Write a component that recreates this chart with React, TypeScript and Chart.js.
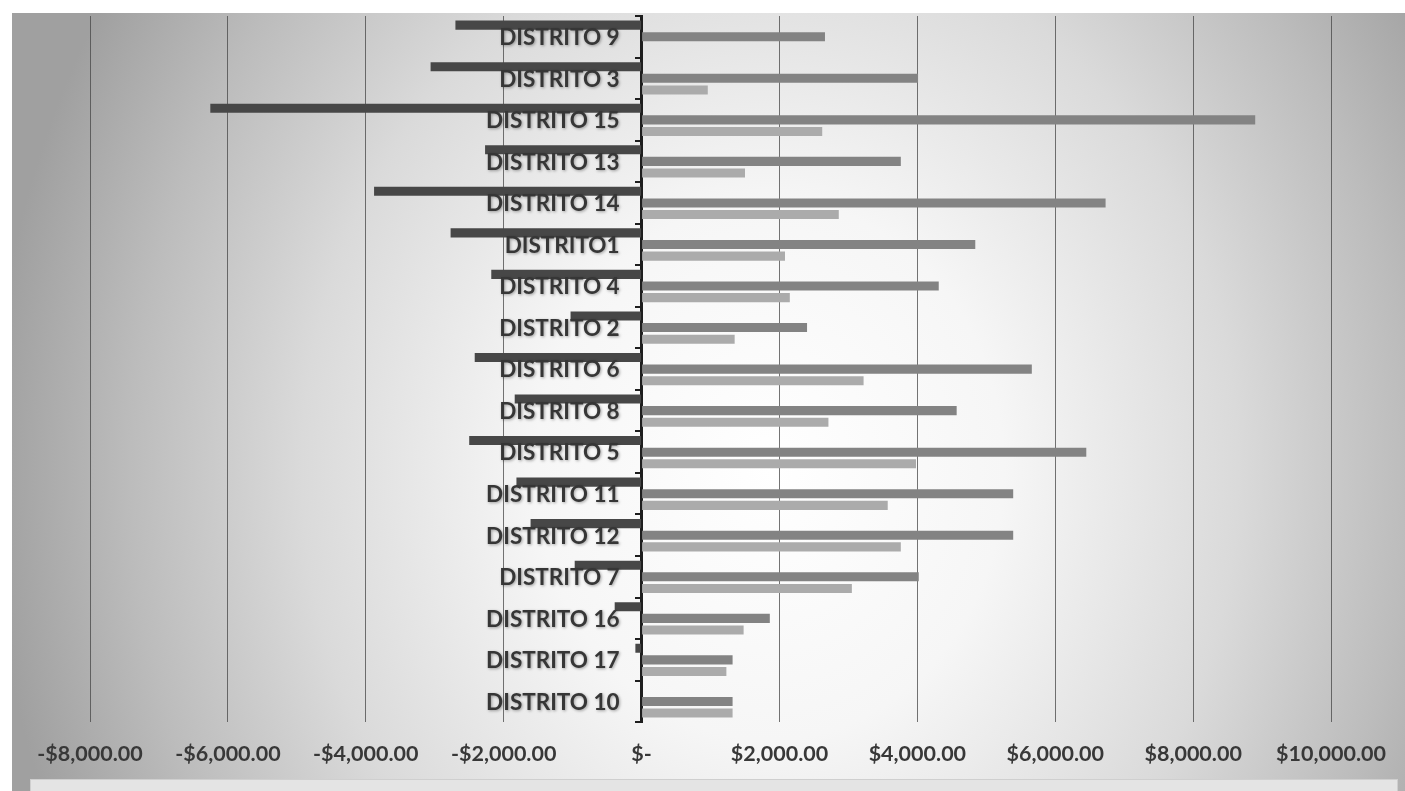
import React, { useEffect, useRef } from "react";
import { Chart, registerables } from "chart.js";

Chart.register(...registerables);

const categories = [
  "DISTRITO 9",
  "DISTRITO 3",
  "DISTRITO 15",
  "DISTRITO 13",
  "DISTRITO 14",
  "DISTRITO1",
  "DISTRITO 4",
  "DISTRITO 2",
  "DISTRITO 6",
  "DISTRITO 8",
  "DISTRITO 5",
  "DISTRITO 11",
  "DISTRITO 12",
  "DISTRITO 7",
  "DISTRITO 16",
  "DISTRITO 17",
  "DISTRITO 10",
];

const seriesNames = ["Serie 1", "Serie 2", "Serie 3"];

const darkValues = [
  -2700, -3060, -6255, -2270, -3880, -2770, -2180, -1030, -2420, -1840, -2500,
  -1815, -1610, -970, -390, -90, 0,
];

const mediumValues = [
  2660, 4010, 8900, 3760, 6730, 4840, 4310, 2400, 5660, 4570, 6450, 5390, 5390,
  4020, 1860, 1320, 1320,
];

const lightValues = [
  0, 960, 2620, 1500, 2860, 2080, 2150, 1350, 3220, 2710, 3980, 3570, 3760,
  3050, 1480, 1230, 1320,
];

const xMin = -8000;
const xMax = 10000;
const xStep = 2000;

const formatMoney = (v: number) => {
  if (v === 0) return "$-";
  const s =
    "$" +
    Math.abs(v).toLocaleString("en-US", {
      minimumFractionDigits: 2,
      maximumFractionDigits: 2,
    });
  return v < 0 ? "-" + s : s;
};

const backgroundPlugin = {
  id: "excelBackground",
  beforeDraw(chart: any) {
    const ctx = chart.ctx as CanvasRenderingContext2D;
    const w = chart.width;
    const h = chart.height;
    ctx.save();
    ctx.fillStyle = "#ffffff";
    ctx.fillRect(0, 0, w, h);
    const cx = 770;
    const cy = 470;
    const rx = 780;
    const ry = 900;
    const x0 = 12;
    const y0 = 13;
    ctx.translate(cx, cy);
    ctx.scale(1, ry / rx);
    const g = ctx.createRadialGradient(0, 0, 0, 0, 0, rx);
    g.addColorStop(0, "#ffffff");
    g.addColorStop(0.3, "#f6f6f6");
    g.addColorStop(0.6, "#dadada");
    g.addColorStop(0.82, "#bcbcbc");
    g.addColorStop(1, "#a0a0a0");
    ctx.fillStyle = g;
    ctx.fillRect(x0 - cx, (y0 - cy) * (rx / ry), w - x0, (h - y0) * (rx / ry));
    ctx.restore();
    // partially visible legend panel
    ctx.save();
    ctx.fillStyle = "#e4e4e4";
    ctx.fillRect(30, 779, 1368, 14);
    ctx.strokeStyle = "#cfcfcf";
    ctx.lineWidth = 1;
    ctx.strokeRect(30.5, 779.5, 1367, 14);
    ctx.restore();
  },
};

const categoryLabelPlugin = {
  id: "categoryLabels",
  afterDatasetsDraw(chart: any) {
    const ctx = chart.ctx as CanvasRenderingContext2D;
    const xs = chart.scales.x;
    const ys = chart.scales.y;
    const x = xs.getPixelForValue(0) - 22;
    ctx.save();
    ctx.font = "bold 22.5px Lato";
    ctx.textAlign = "right";
    ctx.textBaseline = "middle";
    ctx.fillStyle = "#363636";
    ctx.shadowColor = "rgba(0,0,0,0.35)";
    ctx.shadowBlur = 3;
    ctx.shadowOffsetX = 1;
    ctx.shadowOffsetY = 1;
    categories.forEach((c, i) => {
      ctx.fillText(c, x, ys.getPixelForValue(i) + 1);
    });
    ctx.restore();
  },
};

export default function App() {
  const canvasRef = useRef<HTMLCanvasElement | null>(null);

  useEffect(() => {
    document.body.style.margin = "0";
    const canvas = canvasRef.current;
    if (!canvas) return;
    const chart = new Chart(canvas, {
      type: "bar",
      data: {
        labels: categories,
        datasets: [
          {
            label: seriesNames[0],
            data: darkValues,
            backgroundColor: "#474747",
            borderWidth: 0,
          },
          {
            label: seriesNames[1],
            data: mediumValues,
            backgroundColor: "#838383",
            borderWidth: 0,
          },
          {
            label: seriesNames[2],
            data: lightValues,
            backgroundColor: "#ababab",
            borderWidth: 0,
          },
        ],
      },
      options: {
        indexAxis: "y",
        responsive: false,
        animation: false,
        devicePixelRatio: 1,
        layout: { padding: { left: 90, right: 70, top: 16, bottom: 5 } },
        datasets: {
          bar: { categoryPercentage: 0.84, barPercentage: 0.78 },
        },
        plugins: {
          legend: { display: false },
          tooltip: { enabled: false },
          title: { display: false },
        },
        scales: {
          x: {
            type: "linear",
            min: xMin,
            max: xMax,
            ticks: {
              stepSize: xStep,
              padding: 19,
              color: "#383838",
              font: { family: "Lato", size: 21.5, weight: "bold" },
              callback: (v: any) => formatMoney(Number(v)),
            },
            grid: {
              color: "rgba(70,70,70,0.75)",
              lineWidth: 1,
              drawTicks: false,
            },
            border: { display: false },
          },
          y: {
            type: "category",
            position: { x: 0 } as any,
            z: 1,
            offset: true,
            grid: {
              drawOnChartArea: false,
              drawTicks: true,
              tickLength: 5,
              color: "#1e1e1e",
              lineWidth: 2,
              offset: true,
            },
            border: { display: true, color: "#1e1e1e", width: 3 },
            ticks: { display: false, autoSkip: false },
          },
        },
      },
      plugins: [backgroundPlugin, categoryLabelPlugin],
    });
    return () => chart.destroy();
  }, []);

  return (
    <div style={{ width: 1405, height: 791 }}>
      <canvas
        ref={canvasRef}
        width={1405}
        height={791}
        style={{ display: "block", width: 1405, height: 791 }}
      />
    </div>
  );
}
